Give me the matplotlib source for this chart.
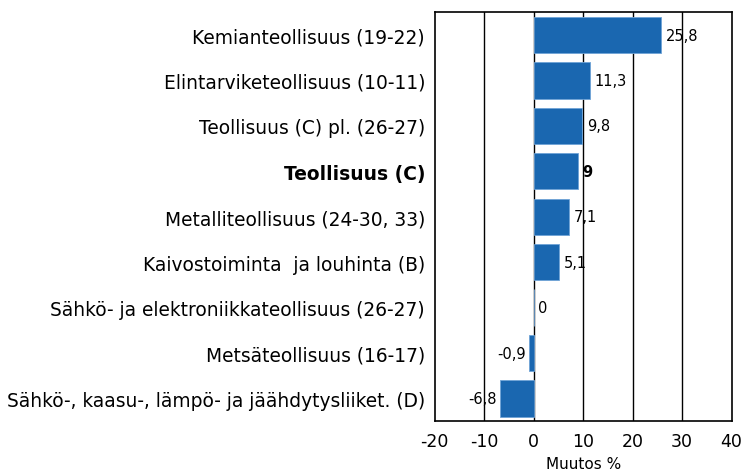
import matplotlib.pyplot as plt

categories = [
    'Kemianteollisuus (19-22)',
    'Elintarviketeollisuus (10-11)',
    'Teollisuus (C) pl. (26-27)',
    'Teollisuus (C)',
    'Metalliteollisuus (24-30, 33)',
    'Kaivostoiminta  ja louhinta (B)',
    'Sähkö- ja elektroniikkateollisuus (26-27)',
    'Metsäteollisuus (16-17)',
    'Sähkö-, kaasu-, lämpö- ja jäähdytysliiket. (D)',
]
values = [25.8, 11.3, 9.8, 9.0, 7.1, 5.1, 0.0, -0.9, -6.8]
value_labels = ['25,8', '11,3', '9,8', '9', '7,1', '5,1', '0', '-0,9', '-6,8']
bold_index = 3
xticks = [-20, -10, 0, 10, 20, 30, 40]

plt.rcParams['font.family'] = ['DejaVu Sans']

fig = plt.figure(figsize=(7.42, 4.77), dpi=100)
ax = fig.add_axes([0.586, 0.115, 0.400, 0.857])

ypos = list(range(len(categories)))
ax.barh(ypos, values, height=0.8, color='#1a67b0', edgecolor='#6fa3d6', linewidth=0.6, zorder=3)

for x in xticks[1:-1]:
    ax.axvline(x, color='black', linewidth=1.0, zorder=2)

for i, (v, lab) in enumerate(zip(values, value_labels)):
    weight = 'bold' if i == bold_index else 'normal'
    if v < 0:
        ax.text(v - 0.7, i, lab, ha='right', va='center', fontsize=10.5, fontweight=weight, zorder=4)
    else:
        ax.text(v + 0.9, i, lab, ha='left', va='center', fontsize=10.5, fontweight=weight, zorder=4)

ax.set_xlim(-20, 40)
ax.set_ylim(8.5, -0.5)
ax.set_xticks(xticks)
ax.set_xticklabels([str(t) for t in xticks], fontsize=12.5)
ax.set_yticks(ypos)
ax.set_yticklabels(categories, fontsize=13.4)
for i, t in enumerate(ax.get_yticklabels()):
    if i == bold_index:
        t.set_fontweight('bold')
ax.tick_params(axis='y', length=0, pad=7)
ax.tick_params(axis='x', length=0, pad=8)
ax.set_xlabel('Muutos %', fontsize=11, labelpad=4)
for s in ax.spines.values():
    s.set_linewidth(1.2)

fig.savefig('out.png', dpi=100)
